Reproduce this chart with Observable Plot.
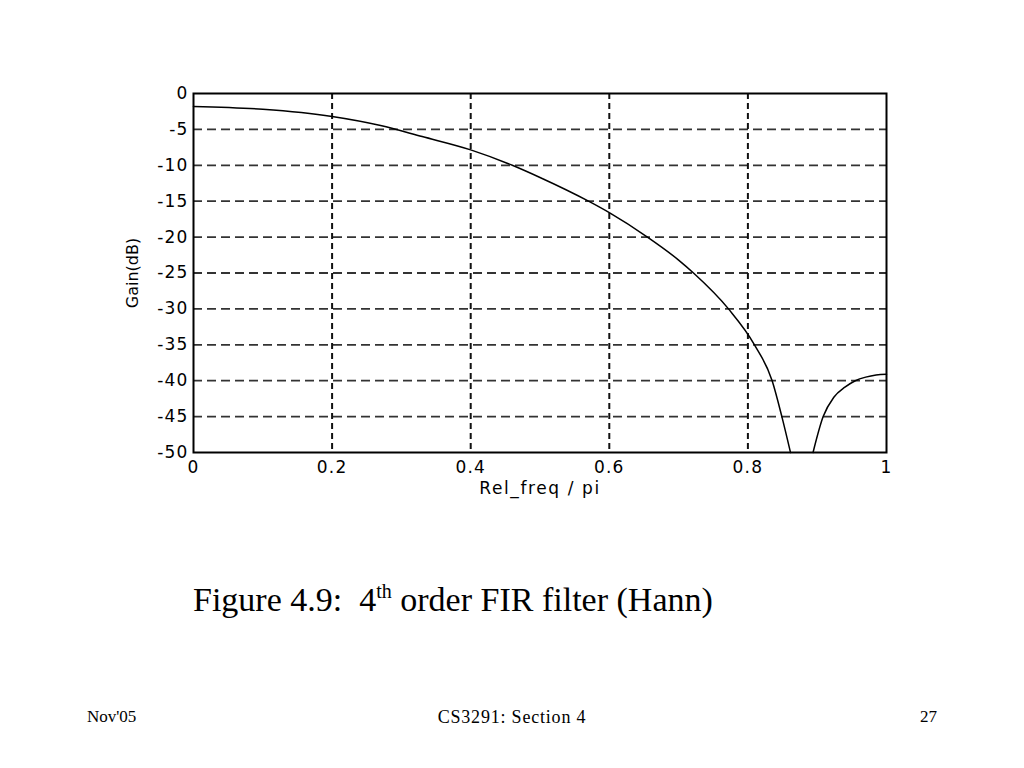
<!DOCTYPE html>
<html>
<head>
<meta charset="utf-8">
<script src="https://cdn.jsdelivr.net/npm/d3@7"></script>
<script src="https://cdn.jsdelivr.net/npm/@observablehq/plot@0.6"></script>
<style>
  html, body { margin: 0; padding: 0; background: #fff; }
  body { width: 1024px; height: 768px; position: relative; overflow: hidden; }
  #chart { position: absolute; left: 0; top: 0; }
  .caption { position: absolute; left: 193px; top: 583px; line-height: 1; font-family: "Liberation Serif", "Times New Roman", serif; font-size: 34px; color: #000; white-space: pre; }
  .caption sup { font-size: 20px; vertical-align: 13px; line-height: 0; }
  .foot { position: absolute; top: 707px; font-family: "Liberation Serif", "Times New Roman", serif; font-size: 17px; color: #000; white-space: nowrap; }
</style>
</head>
<body>
<div id="chart"></div>
<div class="caption" id="caption"></div>
<div class="foot" id="footL" style="left:87px"></div>
<div class="foot" id="footC" style="left:0;width:1024px;text-align:center;font-size:18px;letter-spacing:0.8px"></div>
<div class="foot" id="footR" style="right:87px"></div>
<script>
// ---- data ----
const mainFreq = [0, 0.1, 0.2, 0.27, 0.33, 0.4, 0.46, 0.5, 0.57, 0.6, 0.655, 0.7, 0.7215, 0.772, 0.8095, 0.835, 0.849, 0.8615];
const mainGain = [-1.8, -2.2, -3.2, -4.46, -6.0, -7.85, -10, -11.7, -15, -16.6, -20, -23.2, -25, -30, -35, -40, -45, -50];
const sideFreq = [0.894, 0.9086, 0.924, 0.94, 0.955, 0.97, 0.985, 1.0];
const sideGain = [-50, -45, -42.3, -40.9, -40, -39.5, -39.2, -39.1];
const xTicks = [0, 0.2, 0.4, 0.6, 0.8, 1];
const yTicks = [0, -5, -10, -15, -20, -25, -30, -35, -40, -45, -50];
const xLabel = "Rel_freq / pi";
const yLabel = "Gain(dB)";
const captionMain = "Figure 4.9:  4";
const captionSup = "th";
const captionRest = " order FIR filter (Hann)";
const footLeft = "Nov'05";
const footCenter = "CS3291: Section 4";
const footRight = "27";

const curve = [
  ...mainFreq.map((f, i) => ({f, g: mainGain[i], seg: "main"})),
  ...sideFreq.map((f, i) => ({f, g: sideGain[i], seg: "side"}))
];

const axisFont = "'DejaVu Sans', Verdana, sans-serif";

const chart = Plot.plot({
  width: 1024,
  height: 520,
  marginLeft: 193,
  marginRight: 138,
  marginTop: 93,
  marginBottom: 68,
  style: { fontFamily: axisFont, fontSize: "17px", color: "#000", background: "transparent", overflow: "visible" },
  x: { domain: [0, 1], ticks: xTicks, tickFormat: d => String(+d.toFixed(1)), label: null },
  y: { domain: [-50, 0], ticks: yTicks, tickFormat: d => String(d), label: null },
  marks: [
    Plot.ruleY(yTicks.filter(d => d !== 0 && d !== -50), { stroke: "#333", strokeWidth: 1.8, strokeDasharray: "9,5" }),
    Plot.ruleX(xTicks.filter(d => d !== 0 && d !== 1), { stroke: "#111", strokeWidth: 2, strokeDasharray: "6,4" }),
    Plot.line(curve, { x: "f", y: "g", z: "seg", stroke: "#000", strokeWidth: 1.5, curve: "monotone-x" }),
    Plot.frame({ stroke: "#000", strokeWidth: 2 }),
    Plot.axisX({ ticks: xTicks, tickFormat: d => String(+d.toFixed(1)), tickSize: 0, tickPadding: 8, fontSize: 17, label: null }),
    Plot.axisY({ ticks: yTicks, tickFormat: d => String(d), tickSize: 0, tickPadding: 5, fontSize: 17, label: null }),
    Plot.text([xLabel], { text: d => d, frameAnchor: "bottom", dy: 41, fontSize: 17, fontFamily: axisFont, className: "xlab" }),
    Plot.text([yLabel], { text: d => d, frameAnchor: "left", textAnchor: "middle", rotate: -90, dx: -61, fontSize: 16, fontFamily: axisFont })
  ]
});
document.getElementById("chart").appendChild(chart);

// widen the MATLAB-like axis lettering
d3.select(chart).selectAll("g[aria-label='x-axis tick label'] text, g[aria-label='y-axis tick label'] text")
  .style("letter-spacing", "1.2px");
d3.select(chart).selectAll("g[aria-label='text'] text")
  .filter(function() { return this.textContent === xLabel; })
  .style("letter-spacing", "1.6px");

const cap = document.getElementById("caption");
cap.append(captionMain);
const sup = document.createElement("sup");
sup.textContent = captionSup;
cap.append(sup);
cap.append(captionRest);
document.getElementById("footL").textContent = footLeft;
document.getElementById("footC").textContent = footCenter;
document.getElementById("footR").textContent = footRight;
</script>
</body>
</html>
